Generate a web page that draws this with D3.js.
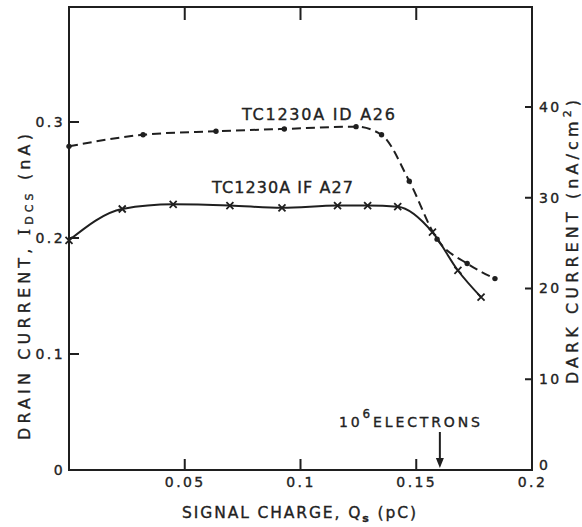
<!DOCTYPE html>
<html>
<head>
<meta charset="utf-8">
<script src="https://cdn.jsdelivr.net/npm/d3@7"></script>
<style>
  html, body { margin: 0; padding: 0; background: #fff; }
  svg { display: block; }
  text { font-family: "DejaVu Sans", sans-serif; fill: #222; stroke: #222; stroke-width: 0.35px; }
</style>
</head>
<body>
<svg id="chart" width="582" height="527"></svg>
<script>
// Device TC1230A ID A26: signal charge (pC) and drain current (nA)
const qA26     = [0, 0.032, 0.0635, 0.093, 0.124, 0.135, 0.147, 0.159, 0.172, 0.184];
const drainA26 = [0.279, 0.289, 0.292, 0.294, 0.296, 0.289, 0.249, 0.199, 0.178, 0.165];

// Device TC1230A IF A27: signal charge (pC) and drain current (nA)
const qA27     = [0, 0.023, 0.045, 0.0695, 0.092, 0.116, 0.129, 0.142, 0.157, 0.168, 0.178];
const drainA27 = [0.198, 0.225, 0.229, 0.228, 0.226, 0.228, 0.228, 0.227, 0.205, 0.172, 0.149];

// Axis ticks
const bottomTicks = [0.05, 0.1, 0.15, 0.2];
const topTicks    = [0.05, 0.1, 0.15];
const drainTicks  = [0, 0.1, 0.2, 0.3];
const darkTicks   = [0, 10, 20, 30, 40];

// 10^6 electrons expressed in pC
const electronCharge = 0.1602;

const ink = "#1f1f1f";
const svg = d3.select("#chart");

const x     = d3.scaleLinear().domain([0, 0.2]).range([69, 532]);
const y     = d3.scaleLinear().domain([0, 0.3]).range([470, 122]);
const yDark = d3.scaleLinear().domain([0, 40]).range([470, 107]);
const frameTop = 7;

// Spread a text's letters until it spans the wanted length
function fit(sel, target) {
  const node = sel.node();
  const n = node.textContent.length;
  const natural = node.getComputedTextLength();
  sel.attr("letter-spacing", ((target - natural) / Math.max(n - 1, 1)).toFixed(2));
  return sel;
}

// Tick labels come from d3 axes; tick marks are drawn inward below
function styleAxis(g) {
  g.select(".domain").remove();
  g.selectAll("line").remove();
  g.attr("font-family", "DejaVu Sans, sans-serif").attr("font-size", 14);
  g.selectAll("text").attr("fill", "#222").attr("letter-spacing", 2.4);
}

svg.append("g").attr("transform", "translate(0,470)")
  .call(d3.axisBottom(x).tickValues(bottomTicks).tickSize(0).tickPadding(7).tickFormat(d => String(d)))
  .call(styleAxis);

svg.append("g").attr("transform", "translate(69,0)")
  .call(d3.axisLeft(y).tickValues(drainTicks).tickSize(0).tickPadding(4).tickFormat(d => String(d)))
  .call(styleAxis);

svg.append("g").attr("transform", "translate(532,0)")
  .call(d3.axisRight(yDark).tickValues(darkTicks).tickSize(0).tickPadding(7).tickFormat(d => String(d)))
  .call(styleAxis)
  .call(g => g.selectAll(".tick").filter(d => d === 0).select("text").attr("dy", "-0.05em"));

// Inward tick marks as small filled bars
const tickG = svg.append("g").attr("fill", ink);
tickG.selectAll("rect.tb").data(bottomTicks.filter(d => d < 0.2)).join("rect")
  .attr("class", "tb")
  .attr("x", d => x(d) - 1).attr("y", y(0) - 11).attr("width", 2).attr("height", 11);
tickG.selectAll("rect.tt").data(topTicks).join("rect")
  .attr("class", "tt")
  .attr("x", d => x(d) - 1).attr("y", frameTop).attr("width", 2).attr("height", 13);
tickG.selectAll("rect.tl").data(drainTicks.filter(d => d > 0)).join("rect")
  .attr("class", "tl")
  .attr("x", x(0)).attr("y", d => y(d) - 1).attr("width", 10).attr("height", 2);
tickG.selectAll("rect.tr").data(darkTicks.filter(d => d > 0)).join("rect")
  .attr("class", "tr")
  .attr("x", x(0.2) - 7).attr("y", d => yDark(d) - 1).attr("width", 7).attr("height", 2);

// Plot frame
svg.append("rect")
  .attr("x", x(0)).attr("y", frameTop)
  .attr("width", x(0.2) - x(0)).attr("height", y(0) - frameTop)
  .attr("fill", "none").attr("stroke", ink).attr("stroke-width", 2);

// Curves
const line = d3.line()
  .x(d => x(d[0])).y(d => y(d[1]))
  .curve(d3.curveMonotoneX);

const a26 = qA26.map((q, i) => [q, drainA26[i]]);
const a27 = qA27.map((q, i) => [q, drainA27[i]]);

svg.append("path").datum(a26)
  .attr("d", line).attr("fill", "none")
  .attr("stroke", ink).attr("stroke-width", 2)
  .attr("stroke-dasharray", "9,5");

svg.append("path").datum(a27)
  .attr("d", line).attr("fill", "none")
  .attr("stroke", ink).attr("stroke-width", 2);

// Markers: dots for A26, crosses for A27
svg.append("g").selectAll("circle").data(a26).join("circle")
  .attr("cx", d => x(d[0])).attr("cy", d => y(d[1]))
  .attr("r", 2.7).attr("fill", ink);

svg.append("g").selectAll("path").data(a27).join("path")
  .attr("transform", d => `translate(${x(d[0])},${y(d[1])})`)
  .attr("d", "M-3.5,-3.5L3.5,3.5M-3.5,3.5L3.5,-3.5")
  .attr("stroke", ink).attr("stroke-width", 1.8).attr("fill", "none");

// Curve labels
fit(svg.append("text").attr("x", 242).attr("y", 120).attr("font-size", 16)
  .text("TC1230A ID A26"), 153);
fit(svg.append("text").attr("x", 212).attr("y", 193).attr("font-size", 16)
  .text("TC1230A IF A27"), 141);

// Bottom axis title
const xt = svg.append("text").attr("x", 300).attr("y", 518)
  .attr("text-anchor", "middle").attr("font-size", 15.5);
xt.append("tspan").text("SIGNAL CHARGE, Q");
xt.append("tspan").attr("dy", 4).attr("font-size", 11).attr("font-weight", "bold").text("s");
xt.append("tspan").attr("dy", -4).text(" (pC)");
fit(xt, 234);

// Left axis title
const yt = svg.append("text")
  .attr("transform", "translate(30,285) rotate(-90)")
  .attr("text-anchor", "middle").attr("font-size", 16);
yt.append("tspan").text("DRAIN CURRENT, ");
yt.append("tspan").attr("font-family", "DejaVu Serif, serif").text("I");
yt.append("tspan").attr("dy", 3).attr("font-size", 11).text("DCS");
yt.append("tspan").attr("dy", -3).text(" (nA)");
fit(yt, 306);

// Right axis title
const rt = svg.append("text")
  .attr("transform", "translate(578,240) rotate(-90)")
  .attr("text-anchor", "middle").attr("font-size", 16);
rt.append("tspan").text("DARK CURRENT (nA/cm");
rt.append("tspan").attr("dy", -7).attr("font-size", 11).text("2");
rt.append("tspan").attr("dy", 7).text(")");
fit(rt, 284);

// 10^6 electrons marker
const et = svg.append("text").attr("x", 339).attr("y", 427).attr("font-size", 14);
et.append("tspan").text("10");
et.append("tspan").attr("dy", -9).attr("font-size", 12).text("6");
et.append("tspan").attr("dy", 9).text("ELECTRONS");
fit(et, 141);

const ax = x(electronCharge);
svg.append("line")
  .attr("x1", ax).attr("x2", ax).attr("y1", 432).attr("y2", 459)
  .attr("stroke", ink).attr("stroke-width", 2);
svg.append("path")
  .attr("d", `M${ax - 4},458L${ax + 4},458L${ax},468Z`)
  .attr("fill", ink);
</script>
</body>
</html>
